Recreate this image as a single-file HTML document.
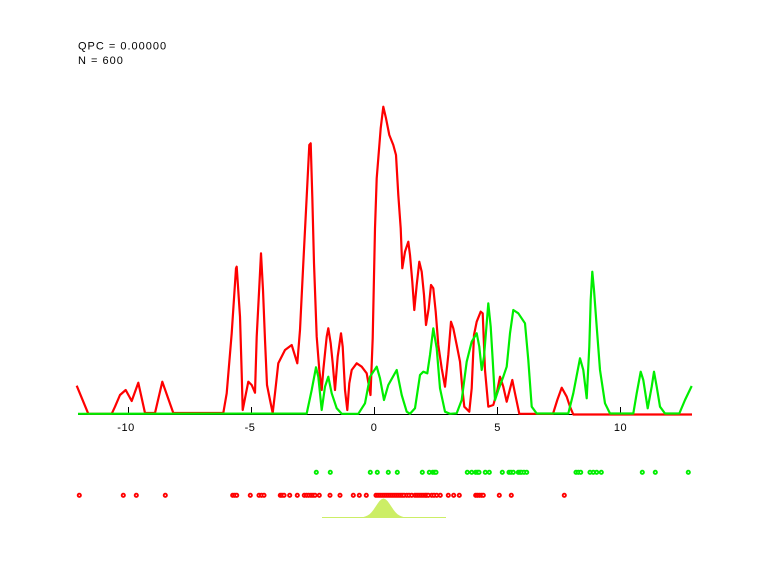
<!DOCTYPE html>
<html><head><meta charset="utf-8"><style>
html,body{margin:0;padding:0;background:#fff;}
svg{display:block;}
text{font-family:"Liberation Sans",Arial,sans-serif;font-size:11px;fill:#000;}
</style></head><body>
<svg width="768" height="576" viewBox="0 0 768 576" xmlns="http://www.w3.org/2000/svg">
<rect width="768" height="576" fill="#fff"/>
<text x="78" y="49.5" letter-spacing="1">QPC = 0.00000</text>
<text x="78" y="64" letter-spacing="1">N = 600</text>

<!-- axis -->
<line x1="78" y1="414.5" x2="692" y2="414.5" stroke="#000" stroke-width="1"/>
<g stroke="#000" stroke-width="1">
<line x1="128.5" y1="407" x2="128.5" y2="414"/>
<line x1="251.5" y1="407" x2="251.5" y2="414"/>
<line x1="374.5" y1="407" x2="374.5" y2="414"/>
<line x1="497.5" y1="407" x2="497.5" y2="414"/>
<line x1="620.5" y1="407" x2="620.5" y2="414"/>
</g>
<g text-anchor="middle" letter-spacing="0.5">
<text x="126" y="431">-10</text>
<text x="250" y="431">-5</text>
<text x="374" y="431">0</text>
<text x="497.5" y="431">5</text>
<text x="620.5" y="431">10</text>
</g>

<!-- red curve -->
<polyline fill="none" stroke="#ff0000" stroke-width="2.2" stroke-linejoin="round" points="
76.7,385.7 88.3,413.8 111.7,413.8 115,406.7 120,395 125.7,390 131.7,401 138.3,382.7 145,413 155,413 162.3,381.7 173.3,413 223.3,413
226.7,393.3 231.7,333.3 236,268.3 236.7,266.7 240,316.7 241.7,373.3 242.7,410 245,398.3 248.3,381.7 251.7,385 255,392.7 256.7,336.7
259.3,286.7 261,253.3 263,290 265,340 267,385 270,400 272.7,413 275,393.3 278.3,363.3 285,350 291.7,345 297.3,363.3 300,330
303.3,263.3 306.7,196.7 309.3,145 310.7,143.3 312.3,196.7 314,263.3 316.7,336.7 319.3,370 321.7,390 323.3,370 326.7,336.7 328.3,328.3
330.7,343.3 332.7,363.3 335,390 337.7,356.7 341,333.3 342.7,346.7 345,390 347.3,410 349.3,383.3 351.7,370 356.7,363.3 361.7,366.7
366.7,373.3 370.5,395 372.7,338.3 375,228.3 376.7,178.3 378.3,158.3 380.7,128.3 383.3,106.7 386,118.3 389.3,135 393.3,145 396,155
398.3,195 400.7,228.3 402.3,268.3 405,251.7 408.3,241.7 410,255 412.3,281.7 414.3,310 416.7,285 419.3,261.7 421.7,271.7 424,295
426,325 428.7,308.3 431,285 433.3,288.3 435.7,311.7 438.3,345 441.7,368.3 445,386.7 448.3,355 451,321.7 453.3,328.3 456.7,345
460,361.7 462.3,388.3 464.3,406.7 469.3,411.7 471.7,388.3 474,335 476.7,321.7 480.7,311.7 482.7,313.3 485,370 488.3,406.7
493.3,405 496.7,393.3 500,376.7 503.3,386.7 506.7,401.7 512.3,380 515,393.3 519.3,413.8 553,413.8 557.3,400 561.7,387.7
566.7,396.7 570,406.7 573.3,414.5 692,414.5"/>

<!-- green curve -->
<polyline fill="none" stroke="#00ee00" stroke-width="2.2" stroke-linejoin="round" points="
78,413.8 306.7,413.5 311.7,390 316,367.3 318.3,376.7 321.7,410 325,386.7 328.3,376.7 331.7,393.3 336.7,408.3 341.7,413.8 358.3,413.8
365,403.3 370,376.7 376.7,366.7 380,378.3 384,400 388.3,385 396.7,370 401.7,395 406.7,411.7 410,413.8 415,408.3 420,375 423.3,371.7
427.3,373.3 430,355 433.3,328.3 436.7,348.3 440,388.3 445,411.7 450,413.8 456.7,413.3 461.7,400 466.7,361.7 471.7,341.7 476.7,333.3
479.3,346.7 481.7,370 484,356.7 488.3,303.3 490.7,326.7 492.7,360 495,400 498.3,390 503.3,376.7 506.7,366.7 510,333.3 513.3,310
518.3,313.3 525,323.3 528.3,360 531.7,406.7 536.7,413.5 568.3,413.5 573.3,393.3 580,358.3 583.3,370 586.7,398.3 589.3,346.7
590.7,300 592.3,271.7 594,290 596.7,326.7 600,370 605,403.3 610,413.5 633.3,413.5 636.7,393.3 640.7,371.7 643.3,380 647.7,408.3
651.7,386.7 654,371.7 656.7,386.7 660,406.7 665,413.5 679.3,413.5 685,400 691.7,386"/>

<!-- green dots -->
<g fill="#fff" stroke="#00ee00" stroke-width="1.9">
<circle cx="316.3" cy="472.3" r="1.6"/><circle cx="330.3" cy="472.3" r="1.6"/><circle cx="370.3" cy="472.3" r="1.6"/>
<circle cx="377.3" cy="472.3" r="1.6"/><circle cx="388.3" cy="472.3" r="1.6"/><circle cx="397.3" cy="472.3" r="1.6"/>
<circle cx="422.3" cy="472.3" r="1.6"/><circle cx="429.3" cy="472.3" r="1.6"/><circle cx="432.7" cy="472.3" r="1.6"/>
<circle cx="434.5" cy="472.3" r="1.6"/><circle cx="436" cy="472.3" r="1.6"/><circle cx="467.3" cy="472.3" r="1.6"/>
<circle cx="471.7" cy="472.3" r="1.6"/><circle cx="475.7" cy="472.3" r="1.6"/><circle cx="477.5" cy="472.3" r="1.6"/>
<circle cx="479" cy="472.3" r="1.6"/><circle cx="485.3" cy="472.3" r="1.6"/><circle cx="489.3" cy="472.3" r="1.6"/>
<circle cx="502.3" cy="472.3" r="1.6"/><circle cx="509" cy="472.3" r="1.6"/><circle cx="511" cy="472.3" r="1.6"/>
<circle cx="513.3" cy="472.3" r="1.6"/><circle cx="518.3" cy="472.3" r="1.6"/><circle cx="520" cy="472.3" r="1.6"/>
<circle cx="521.5" cy="472.3" r="1.6"/><circle cx="524" cy="472.3" r="1.6"/><circle cx="526.7" cy="472.3" r="1.6"/>
<circle cx="576" cy="472.3" r="1.6"/><circle cx="578.3" cy="472.3" r="1.6"/><circle cx="580.7" cy="472.3" r="1.6"/>
<circle cx="590" cy="472.3" r="1.6"/><circle cx="593.3" cy="472.3" r="1.6"/><circle cx="596.7" cy="472.3" r="1.6"/>
<circle cx="601.3" cy="472.3" r="1.6"/><circle cx="642.3" cy="472.3" r="1.6"/><circle cx="655.3" cy="472.3" r="1.6"/>
<circle cx="688.3" cy="472.3" r="1.6"/>
</g>

<!-- red dots -->
<g fill="#fff" stroke="#ff0000" stroke-width="1.9">
<circle cx="79.3" cy="495.3" r="1.6"/><circle cx="123.3" cy="495.3" r="1.6"/><circle cx="136.3" cy="495.3" r="1.6"/>
<circle cx="165.3" cy="495.3" r="1.6"/><circle cx="232.7" cy="495.3" r="1.6"/><circle cx="234.7" cy="495.3" r="1.6"/>
<circle cx="236.7" cy="495.3" r="1.6"/><circle cx="250.3" cy="495.3" r="1.6"/><circle cx="259" cy="495.3" r="1.6"/>
<circle cx="261.5" cy="495.3" r="1.6"/><circle cx="264" cy="495.3" r="1.6"/><circle cx="280.3" cy="495.3" r="1.6"/>
<circle cx="282" cy="495.3" r="1.6"/><circle cx="284" cy="495.3" r="1.6"/><circle cx="289.7" cy="495.3" r="1.6"/>
<circle cx="297.3" cy="495.3" r="1.6"/><circle cx="304.3" cy="495.3" r="1.6"/><circle cx="306.5" cy="495.3" r="1.6"/>
<circle cx="308.7" cy="495.3" r="1.6"/><circle cx="311" cy="495.3" r="1.6"/><circle cx="313" cy="495.3" r="1.6"/>
<circle cx="315" cy="495.3" r="1.6"/><circle cx="319.3" cy="495.3" r="1.6"/><circle cx="330" cy="495.3" r="1.6"/>
<circle cx="340" cy="495.3" r="1.6"/><circle cx="353.3" cy="495.3" r="1.6"/><circle cx="359.3" cy="495.3" r="1.6"/>
<circle cx="366.3" cy="495.3" r="1.6"/><circle cx="376" cy="495.3" r="1.6"/><circle cx="378" cy="495.3" r="1.6"/>
<circle cx="380" cy="495.3" r="1.6"/><circle cx="382" cy="495.3" r="1.6"/><circle cx="384" cy="495.3" r="1.6"/>
<circle cx="386" cy="495.3" r="1.6"/><circle cx="388" cy="495.3" r="1.6"/><circle cx="390" cy="495.3" r="1.6"/>
<circle cx="392" cy="495.3" r="1.6"/><circle cx="394" cy="495.3" r="1.6"/><circle cx="396" cy="495.3" r="1.6"/>
<circle cx="398" cy="495.3" r="1.6"/><circle cx="400" cy="495.3" r="1.6"/><circle cx="402" cy="495.3" r="1.6"/>
<circle cx="404" cy="495.3" r="1.6"/><circle cx="406.7" cy="495.3" r="1.6"/><circle cx="409" cy="495.3" r="1.6"/>
<circle cx="411.7" cy="495.3" r="1.6"/><circle cx="415" cy="495.3" r="1.6"/><circle cx="417" cy="495.3" r="1.6"/>
<circle cx="419" cy="495.3" r="1.6"/><circle cx="421" cy="495.3" r="1.6"/><circle cx="423" cy="495.3" r="1.6"/>
<circle cx="425" cy="495.3" r="1.6"/><circle cx="426.5" cy="495.3" r="1.6"/><circle cx="428.3" cy="495.3" r="1.6"/>
<circle cx="431.7" cy="495.3" r="1.6"/><circle cx="434" cy="495.3" r="1.6"/><circle cx="436.7" cy="495.3" r="1.6"/>
<circle cx="440.3" cy="495.3" r="1.6"/><circle cx="448.3" cy="495.3" r="1.6"/><circle cx="453.7" cy="495.3" r="1.6"/>
<circle cx="459.3" cy="495.3" r="1.6"/><circle cx="475.7" cy="495.3" r="1.6"/><circle cx="477.5" cy="495.3" r="1.6"/>
<circle cx="479.5" cy="495.3" r="1.6"/><circle cx="481.5" cy="495.3" r="1.6"/><circle cx="483.3" cy="495.3" r="1.6"/>
<circle cx="499.3" cy="495.3" r="1.6"/><circle cx="511.3" cy="495.3" r="1.6"/><circle cx="564.3" cy="495.3" r="1.6"/>
</g>

<!-- density bell -->
<line x1="322" y1="517.5" x2="446" y2="517.5" stroke="#ccee66" stroke-width="1"/>
<path fill="#ccee66" stroke="none" d="M361.5,518 L361.5,517.25 363.5,517 365.5,516.4 367.5,515.55 369.5,514.2 371.5,512.2 373.5,509.7 375.5,506.7 377.5,503.7 379.5,501 381.5,499.2 383.5,498.5 385.5,499.2 387.5,501 389.5,503.7 391.5,506.7 393.5,509.7 395.5,512.2 397.5,514.2 399.5,515.55 401.5,516.4 403.5,517 405.5,517.25 L405.5,518 Z"/>
</svg>
</body></html>
